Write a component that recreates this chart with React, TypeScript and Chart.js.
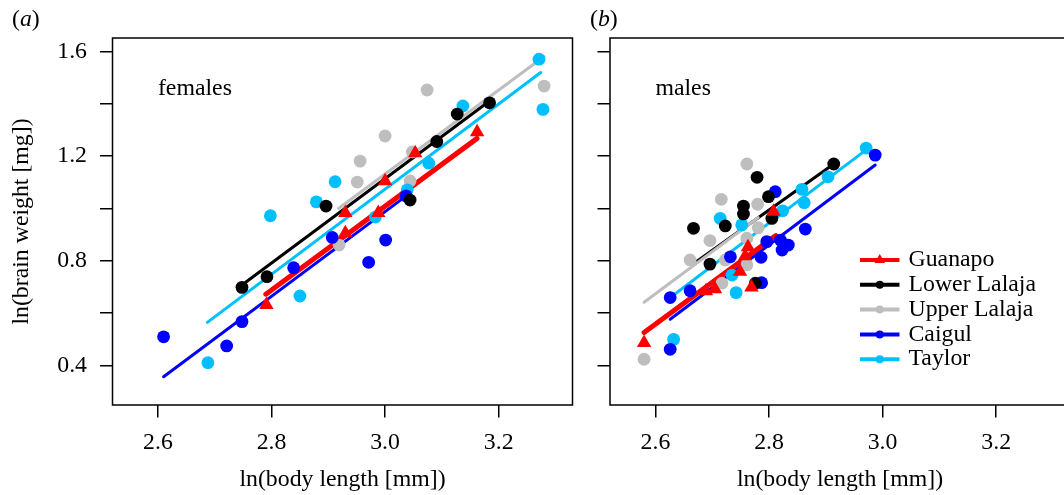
import React, { useEffect, useRef } from 'react';
import { Chart, registerables } from 'chart.js';

Chart.register(...registerables);

const FONT = '"Liberation Serif", "Times New Roman", serif';
const FS = 23.8;

const populations = ['Guanapo', 'Lower Lalaja', 'Upper Lalaja', 'Caigul', 'Taylor'];
const colors = ['#FF0000', '#000000', '#BEBEBE', '#0000FF', '#00BFFF'];

const xTicks = [2.6, 2.8, 3.0, 3.2];
const yTicks = [0.4, 0.6, 0.8, 1.0, 1.2, 1.4, 1.6];
const yLabeled = [0.4, 0.8, 1.2, 1.6];

// ---- females (a) ----
const femGuanapoX = [2.791, 2.930, 2.930, 2.988, 3.000, 3.053, 3.162];
const femGuanapoY = [0.631, 0.906, 0.983, 0.983, 1.105, 1.212, 1.292];
const femLowerX = [2.748, 2.792, 2.896, 3.044, 3.091, 3.127, 3.184];
const femLowerY = [0.698, 0.739, 1.009, 1.032, 1.256, 1.361, 1.404];
const femUpperX = [2.919, 2.951, 2.956, 3.000, 3.044, 3.048, 3.074, 3.280];
const femUpperY = [0.860, 1.101, 1.181, 1.277, 1.105, 1.216, 1.453, 1.468];
const femCaigulX = [2.610, 2.721, 2.748, 2.839, 2.907, 2.971, 3.001, 3.037];
const femCaigulY = [0.509, 0.474, 0.567, 0.773, 0.889, 0.794, 0.879, 1.048];
const femTaylorX = [2.688, 2.798, 2.850, 2.879, 2.912, 2.983, 3.039, 3.077, 3.137, 3.271, 3.278];
const femTaylorY = [0.410, 0.972, 0.665, 1.025, 1.102, 0.967, 1.071, 1.173, 1.392, 1.571, 1.379];

// fitted lines, females: [x start, x end], [y start, y end]
const femLineX = [[2.790, 3.162], [2.748, 3.184], [2.918, 3.280], [2.610, 3.039], [2.687, 3.274]];
const femLineY = [[0.672, 1.268], [0.707, 1.411], [1.000, 1.581], [0.356, 1.051], [0.564, 1.520]];

// ---- males (b) ----
const malGuanapoX = [2.580, 2.689, 2.705, 2.749, 2.758, 2.763, 2.769, 2.808];
const malGuanapoY = [0.486, 0.684, 0.691, 0.758, 0.818, 0.852, 0.698, 0.988];
const malLowerX = [2.667, 2.696, 2.723, 2.755, 2.755, 2.776, 2.779, 2.799, 2.805, 2.914];
const malLowerY = [0.924, 0.787, 0.933, 1.009, 0.979, 0.714, 1.119, 1.045, 0.962, 1.170];
const malUpperX = [2.580, 2.661, 2.696, 2.716, 2.717, 2.723, 2.761, 2.761, 2.761, 2.780, 2.781];
const malUpperY = [0.423, 0.803, 0.877, 1.035, 0.714, 0.803, 1.170, 0.886, 0.784, 1.016, 0.926];
const malCaigulX = [2.626, 2.626, 2.661, 2.732, 2.786, 2.787, 2.796, 2.811, 2.820, 2.823, 2.834, 2.864, 2.987];
const malCaigulY = [0.461, 0.659, 0.685, 0.815, 0.813, 0.716, 0.873, 1.064, 0.879, 0.841, 0.860, 0.921, 1.204];
const malTaylorX = [2.632, 2.714, 2.735, 2.742, 2.752, 2.824, 2.858, 2.862, 2.904, 2.971];
const malTaylorY = [0.499, 0.962, 0.745, 0.678, 0.937, 0.991, 1.073, 1.022, 1.121, 1.231];

const malLineX = [[2.580, 2.812], [2.667, 2.914], [2.580, 2.781], [2.626, 2.987], [2.632, 2.971]];
const malLineY = [[0.525, 0.896], [0.788, 1.170], [0.641, 0.965], [0.576, 1.166], [0.669, 1.224]];

const xMin = 2.52;
const xMax = 3.33;
const yMin = 0.248;
const yMax = 1.652;

const zip = (xs: number[], ys: number[]) => xs.map((x, i) => ({ x, y: ys[i] }));

const pointOrder = [0, 1, 4, 2, 3];
const lineOrder = [10, 12, 11, 14, 13];
const lineWidths = [5, 3, 3, 3, 3];

function buildDatasets(px: number[][], py: number[][], lx: number[][], ly: number[][]) {
  const ds: any[] = [];
  populations.forEach((name, i) => {
    ds.push({
      label: name + ' fit',
      data: zip(lx[i], ly[i]),
      showLine: true,
      borderColor: colors[i],
      backgroundColor: colors[i],
      borderWidth: lineWidths[i],
      borderCapStyle: 'round',
      pointRadius: 0,
      order: lineOrder[i],
    });
    ds.push({
      label: name,
      data: zip(px[i], py[i]),
      showLine: false,
      pointStyle: i === 0 ? 'triangle' : 'circle',
      pointRadius: i === 0 ? 8.3 : 6.4,
      pointBorderWidth: 0,
      borderWidth: 0,
      pointBackgroundColor: colors[i],
      pointBorderColor: colors[i],
      backgroundColor: colors[i],
      order: pointOrder[i],
    });
  });
  return ds;
}

const boxPlugin = {
  id: 'plotBox',
  afterDraw(chart: any) {
    const { ctx, chartArea } = chart;
    ctx.save();
    ctx.strokeStyle = '#000';
    ctx.lineWidth = 1.5;
    ctx.strokeRect(chartArea.left, chartArea.top, chartArea.right - chartArea.left, chartArea.bottom - chartArea.top);
    ctx.restore();
  },
};

const panelTextPlugin = {
  id: 'panelText',
  afterDraw(chart: any, _args: any, opts: any) {
    if (!opts || !opts.text) return;
    const { ctx, chartArea, scales } = chart;
    ctx.save();
    ctx.fillStyle = '#000';
    ctx.font = `${FS}px ${FONT}`;
    ctx.textAlign = 'left';
    ctx.textBaseline = 'alphabetic';
    ctx.fillText(opts.text, scales.x.getPixelForValue(2.6), chartArea.top + 57);
    ctx.restore();
  },
};

const legendPlugin = {
  id: 'innerLegend',
  afterDraw(chart: any, _args: any, opts: any) {
    if (!opts || !opts.show) return;
    const { ctx, chartArea } = chart;
    const x0 = chartArea.left + 250;
    const x1 = chartArea.left + 289.5;
    const xm = (x0 + x1) / 2;
    const xt = chartArea.left + 298.5;
    ctx.save();
    populations.forEach((name, i) => {
      const y = chartArea.top + 222 + i * 24.8;
      ctx.strokeStyle = colors[i];
      ctx.lineWidth = 4;
      ctx.lineCap = 'butt';
      ctx.beginPath();
      ctx.moveTo(x0, y);
      ctx.lineTo(x1, y);
      ctx.stroke();
      ctx.fillStyle = colors[i];
      ctx.beginPath();
      if (i === 0) {
        const r = 6;
        ctx.moveTo(xm, y - r);
        ctx.lineTo(xm + r * 0.866, y + r * 0.5);
        ctx.lineTo(xm - r * 0.866, y + r * 0.5);
        ctx.closePath();
      } else {
        ctx.arc(xm, y, 4, 0, Math.PI * 2);
      }
      ctx.fill();
      ctx.fillStyle = '#000';
      ctx.font = `${FS}px ${FONT}`;
      ctx.textAlign = 'left';
      ctx.textBaseline = 'middle';
      ctx.fillText(name, xt, y);
    });
    ctx.restore();
  },
};

function makeConfig(which: 'f' | 'm'): any {
  const isF = which === 'f';
  const datasets = isF
    ? buildDatasets(
        [femGuanapoX, femLowerX, femUpperX, femCaigulX, femTaylorX],
        [femGuanapoY, femLowerY, femUpperY, femCaigulY, femTaylorY],
        femLineX,
        femLineY
      )
    : buildDatasets(
        [malGuanapoX, malLowerX, malUpperX, malCaigulX, malTaylorX],
        [malGuanapoY, malLowerY, malUpperY, malCaigulY, malTaylorY],
        malLineX,
        malLineY
      );
  const tickFont = { family: FONT, size: FS };
  return {
    type: 'scatter',
    data: { datasets },
    plugins: [boxPlugin, panelTextPlugin, legendPlugin],
    options: {
      responsive: false,
      animation: false,
      devicePixelRatio: 1,
      events: [],
      layout: { padding: { top: 38, bottom: 0, left: 0, right: isF ? 17.5 : 10 } },
      plugins: {
        legend: { display: false },
        tooltip: { enabled: false },
        panelText: { text: isF ? 'females' : 'males' },
        innerLegend: { show: !isF },
      },
      scales: {
        x: {
          type: 'linear',
          position: 'bottom',
          min: xMin,
          max: xMax,
          afterBuildTicks: (s: any) => {
            s.ticks = xTicks.map((v) => ({ value: v }));
          },
          afterFit: (s: any) => {
            s.height = 90;
          },
          ticks: {
            callback: (v: any) => Number(v).toFixed(1),
            color: '#000',
            font: tickFont,
            padding: 10.5,
            maxRotation: 0,
            autoSkip: false,
          },
          grid: { drawOnChartArea: false, drawTicks: true, tickLength: 12.5, color: '#000', lineWidth: 1.5 },
          border: { display: false },
          title: {
            display: true,
            text: 'ln(body length [mm])',
            color: '#000',
            font: tickFont,
            padding: { top: 0, bottom: 1 },
          },
        },
        y: {
          type: 'linear',
          position: 'left',
          min: yMin,
          max: yMax,
          afterBuildTicks: (s: any) => {
            s.ticks = yTicks.map((v) => ({ value: v }));
          },
          afterFit: (s: any) => {
            s.width = isF ? 112.5 : 30;
          },
          ticks: {
            callback: (v: any) =>
              isF && yLabeled.some((t) => Math.abs(t - Number(v)) < 1e-6) ? Number(v).toFixed(1) : '',
            color: '#000',
            font: tickFont,
            padding: 13,
            autoSkip: false,
          },
          grid: { drawOnChartArea: false, drawTicks: true, tickLength: 12.5, color: '#000', lineWidth: 1.5 },
          border: { display: false },
          title: {
            display: isF,
            text: 'ln(brain weight [mg])',
            color: '#000',
            font: tickFont,
            padding: { top: 7, bottom: 0 },
          },
        },
      },
    },
  };
}

export default function App() {
  const leftRef = useRef<HTMLCanvasElement | null>(null);
  const rightRef = useRef<HTMLCanvasElement | null>(null);

  useEffect(() => {
    const c1 = new Chart(leftRef.current as HTMLCanvasElement, makeConfig('f'));
    const c2 = new Chart(rightRef.current as HTMLCanvasElement, makeConfig('m'));
    return () => {
      c1.destroy();
      c2.destroy();
    };
  }, []);

  const labelStyle: React.CSSProperties = {
    position: 'absolute',
    top: 5,
    fontFamily: FONT,
    fontSize: FS,
    lineHeight: '26px',
    color: '#000',
    whiteSpace: 'nowrap',
  };

  return (
    <div
      style={{
        position: 'absolute',
        left: 0,
        top: 0,
        width: 1064,
        height: 495,
        overflow: 'hidden',
        background: '#fff',
      }}
    >
      <canvas ref={leftRef} width={590} height={495} style={{ position: 'absolute', left: 0, top: 0, width: 590, height: 495 }} />
      <canvas ref={rightRef} width={500} height={495} style={{ position: 'absolute', left: 580, top: 0, width: 500, height: 495 }} />
      <div style={{ ...labelStyle, left: 12 }}>
        (<i>a</i>)
      </div>
      <div style={{ ...labelStyle, left: 590 }}>
        (<i>b</i>)
      </div>
    </div>
  );
}
